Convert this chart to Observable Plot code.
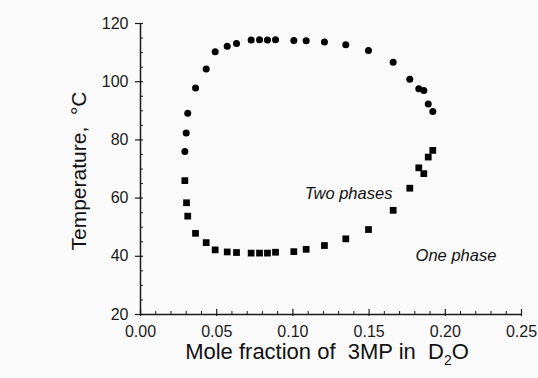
<!DOCTYPE html>
<html>
<head>
<meta charset="utf-8">
<script src="https://cdn.jsdelivr.net/npm/d3@7"></script>
<script src="https://cdn.jsdelivr.net/npm/@observablehq/plot@0.6"></script>
<style>
  html, body { margin: 0; padding: 0; background: #fafafa; }
  #chart { width: 538px; height: 378px; }
  svg { font-family: "Liberation Sans", Arial, Helvetica, sans-serif; }
</style>
</head>
<body>
<div id="chart"></div>
<script>
// Upper branch (circles)
const circleX = [0.0291, 0.0300, 0.0310, 0.0361, 0.0431, 0.0490, 0.0569, 0.0630, 0.0726, 0.0781, 0.0833, 0.0886, 0.1006, 0.1087, 0.1207, 0.1347, 0.1496, 0.1658, 0.1767, 0.1826, 0.1859, 0.1888, 0.1918];
const circleT = [76.0, 82.4, 89.2, 97.8, 104.4, 110.3, 112.2, 113.1, 114.3, 114.4, 114.3, 114.4, 114.2, 114.1, 113.6, 112.7, 110.7, 106.7, 100.8, 97.6, 97.0, 92.3, 89.8];
// Lower branch (squares)
const squareX = [0.0291, 0.0302, 0.0310, 0.0361, 0.0431, 0.0490, 0.0569, 0.0630, 0.0726, 0.0781, 0.0833, 0.0886, 0.1006, 0.1087, 0.1207, 0.1347, 0.1496, 0.1658, 0.1767, 0.1826, 0.1859, 0.1888, 0.1918];
const squareT = [66.0, 58.4, 53.8, 47.9, 44.7, 42.2, 41.5, 41.3, 41.1, 41.1, 41.1, 41.4, 41.6, 42.4, 43.7, 46.0, 49.2, 55.8, 63.4, 70.4, 68.4, 74.1, 76.4];

const xMajor = [0, 0.05, 0.10, 0.15, 0.20, 0.25];
const xMinor = [0.01,0.02,0.03,0.04,0.06,0.07,0.08,0.09,0.11,0.12,0.13,0.14,0.16,0.17,0.18,0.19,0.21,0.22,0.23,0.24];
const yMajor = [20, 40, 60, 80, 100, 120];
const yMinor = [25,30,35,45,50,55,65,70,75,85,90,95,105,110,115];

const regionNames = ["Two phases", "One phase"];
const regionX = [0.1365, 0.2070];
const regionT = [61.6, 40.3];

const xTitle = "Mole fraction of  3MP in  D2O";
const yTitle = "Temperature,  °C";

const circles = circleX.map((x, i) => ({x, t: circleT[i]}));
const squares = squareX.map((x, i) => ({x, t: squareT[i]}));
const regions = regionNames.map((text, i) => ({text, x: regionX[i], t: regionT[i]}));

const axisColor = "#1a1a1a";
const svg = Plot.plot({
  width: 538,
  height: 378,
  marginLeft: 140,
  marginRight: 17,
  marginTop: 23,
  marginBottom: 64,
  style: {background: "transparent", fontFamily: "Liberation Sans, Arial, sans-serif", color: "#1a1a1a"},
  x: {domain: [0, 0.25]},
  y: {domain: [20, 120]},
  marks: [
    Plot.axisX({ticks: xMajor, tickSize: 2, tickPadding: 9, tickFormat: d3.format(".2f"), fontSize: 16, label: null, stroke: axisColor, strokeWidth: 1.2}),
    Plot.axisX({ticks: xMajor, tickSize: -5, text: null, label: null, stroke: axisColor, strokeWidth: 1.2}),
    Plot.axisX({ticks: xMinor, tickSize: -3, text: null, label: null, stroke: axisColor, strokeWidth: 1}),
    Plot.axisY({ticks: yMajor, tickSize: 5, tickPadding: 7, fontSize: 16, label: null, stroke: axisColor, strokeWidth: 1.2}),
    Plot.axisY({ticks: yMajor, tickSize: -3, text: null, label: null, stroke: axisColor, strokeWidth: 1.2}),
    Plot.axisY({ticks: yMinor, tickSize: -3, text: null, label: null, stroke: axisColor, strokeWidth: 1}),
    Plot.ruleY([20], {stroke: axisColor, strokeWidth: 1.5}),
    Plot.ruleX([0], {stroke: axisColor, strokeWidth: 1.5}),
    Plot.dot(circles, {x: "x", y: "t", r: 3.5, fill: "#000", stroke: "none"}),
    Plot.dot(squares, {x: "x", y: "t", r: 3.8, symbol: "square", fill: "#000", stroke: "none"}),
    Plot.text(regions, {x: "x", y: "t", text: "text", fontSize: 16.5, fontStyle: "italic", fill: "#111"}),
    Plot.text([xTitle], {frameAnchor: "bottom", text: d => d, dy: 44, dx: -4, fontSize: 22, fill: "#111"}),
    Plot.text([yTitle], {frameAnchor: "left", textAnchor: "middle", text: d => d, rotate: -90, dx: -61, dy: 2, fontSize: 21, fill: "#111"})
  ]
});

// subscript in D2O; keep double spaces
d3.select(svg).selectAll("text").each(function() {
  if (this.textContent === xTitle) {
    const t = d3.select(this);
    t.text(null).style("white-space", "pre");
    t.append("tspan").text("Mole fraction of  3MP in  D");
    t.append("tspan").attr("font-size", 14).attr("dy", 6).text("2");
    t.append("tspan").attr("dy", -6).text("O");
  }
  if (this.textContent === yTitle) {
    d3.select(this).style("white-space", "pre");
  }
});

document.getElementById("chart").appendChild(svg);
</script>
</body>
</html>
